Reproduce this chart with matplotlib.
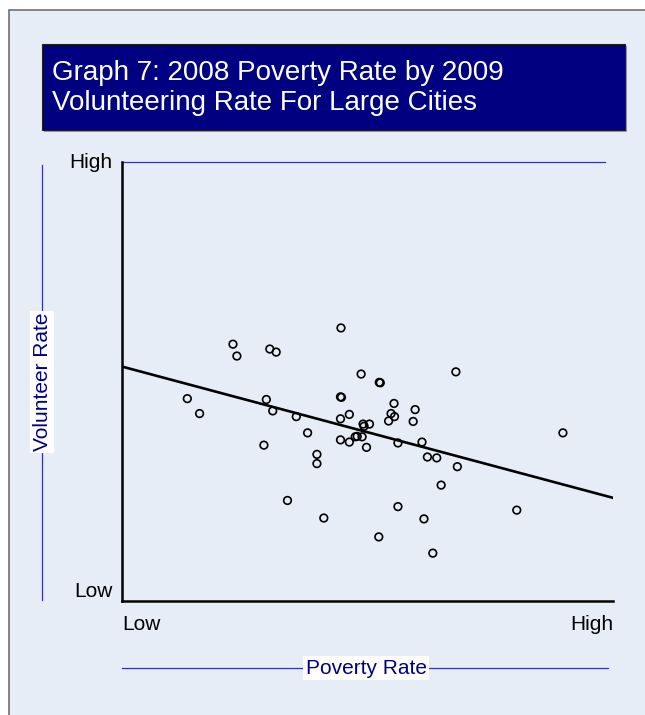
import numpy as np
import matplotlib.pyplot as plt
from matplotlib.patches import Rectangle
from matplotlib.lines import Line2D

plt.rcParams['font.family'] = ['Liberation Sans', 'DejaVu Sans']

# values, scaled 0 (Low) .. 1 (High)
poverty = [0.133, 0.158, 0.294, 0.307, 0.355, 0.378, 0.289, 0.397, 0.397, 0.445,
           0.447, 0.445, 0.463, 0.445, 0.463, 0.491, 0.493, 0.504, 0.475, 0.479,
           0.489, 0.498, 0.524, 0.526, 0.554, 0.548, 0.555, 0.543, 0.597, 0.593,
           0.562, 0.611, 0.622, 0.641, 0.683, 0.650, 0.337, 0.562, 0.804, 0.411,
           0.615, 0.446, 0.226, 0.234, 0.301, 0.314, 0.487, 0.680, 0.523, 0.633,
           0.898]
volunteer = [0.461, 0.427, 0.459, 0.433, 0.420, 0.383, 0.355, 0.334, 0.313, 0.465,
             0.464, 0.415, 0.425, 0.367, 0.362, 0.403, 0.398, 0.403, 0.374, 0.375,
             0.374, 0.350, 0.498, 0.497, 0.450, 0.427, 0.420, 0.410, 0.436, 0.409,
             0.360, 0.362, 0.328, 0.326, 0.306, 0.264, 0.229, 0.215, 0.207, 0.189,
             0.187, 0.622, 0.585, 0.558, 0.574, 0.567, 0.517, 0.522, 0.146, 0.109,
             0.383]
fit_x = [0.0, 1.0]
fit_y = [0.534, 0.235]
tick_labels = ['Low', 'High']

W, H = 645, 715
bg = '#e7edf7'
navy = '#000080'
blue_line = '#3535a5'


def fx(px):
    return px / W


def fy(py):
    return 1 - py / H


fig = plt.figure(figsize=(W / 100, H / 100), dpi=100, facecolor='white')

# panel background with grey border (top / left visible)
fig.add_artist(Rectangle((fx(9), -0.1), 1.2, fy(10) + 0.1, transform=fig.transFigure,
                         facecolor=bg, edgecolor='#707070', linewidth=1.2, zorder=-2))

# title box with shadow
fig.add_artist(Rectangle((fx(44), fy(132)), fx(625) - fx(42), fy(44) - fy(130),
                         transform=fig.transFigure, facecolor='#9a9a9a', edgecolor='none'))
fig.add_artist(Rectangle((fx(42), fy(130)), fx(625) - fx(42), fy(44) - fy(130),
                         transform=fig.transFigure, facecolor=navy, edgecolor='#202020',
                         linewidth=0.8))
fig.text(fx(52), fy(88), 'Graph 7: 2008 Poverty Rate by 2009\nVolunteering Rate For Large Cities',
         color='white', fontsize=20, ha='left', va='center', linespacing=1.25)

ax = fig.add_axes([fx(122), fy(601), fx(613) - fx(122), fy(162) - fy(601)])
ax.set_zorder(5)
ax.set_facecolor('none')
ax.scatter(poverty, volunteer, s=30, facecolors='none', edgecolors='black',
           linewidths=1.2, zorder=3, clip_on=False)
ax.plot(fit_x, fit_y, color='black', linewidth=1.9, zorder=2)

ax.set_xlim(0, 1)
ax.set_ylim(0, 1)
for s in ['top', 'right']:
    ax.spines[s].set_visible(False)
for s in ['left', 'bottom']:
    ax.spines[s].set_linewidth(1.8)

ax.set_xticks([0, 1], tick_labels)
ax.set_yticks([0, 1], tick_labels)
ax.tick_params(axis='x', length=0, pad=10, labelsize=15)
ax.tick_params(axis='y', length=0, pad=7, labelsize=15)
xl = ax.get_xticklabels()
xl[0].set_ha('left')
xl[1].set_ha('right')
yl = ax.get_yticklabels()
yl[0].set_va('bottom')
yl[1].set_va('center')

# decorative blue guide lines
fig.add_artist(Line2D([fx(122), fx(605)], [fy(162), fy(162)], color=blue_line, linewidth=0.9))
fig.add_artist(Line2D([fx(42), fx(42)], [fy(165), fy(600)], color=blue_line, linewidth=0.9))
fig.add_artist(Line2D([fx(122), fx(608)], [fy(668), fy(668)], color=blue_line, linewidth=0.9))

box = dict(facecolor='white', edgecolor='none', pad=1.5)
fig.text(fx(42), fy(382), 'Volunteer Rate', rotation=90, color=navy, fontsize=15,
         ha='center', va='center', bbox=box)
fig.text(fx(366), fy(668), 'Poverty Rate', color=navy, fontsize=15,
         ha='center', va='center', bbox=box)

fig.savefig('out.png', dpi=100, facecolor=fig.get_facecolor())
